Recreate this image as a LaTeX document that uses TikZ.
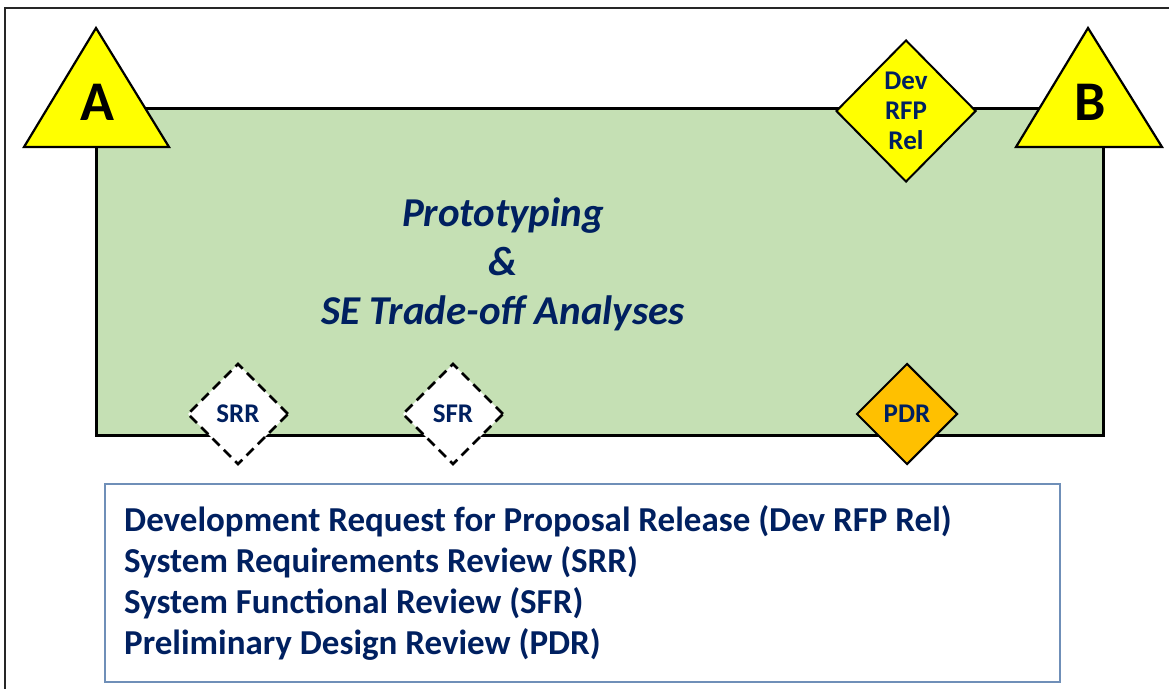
\documentclass[tikz,border=0pt]{standalone}
\usepackage{fontspec}
\setmainfont{Carlito}
\usetikzlibrary{shapes.geometric}
\definecolor{navy}{HTML}{002060}
\definecolor{phasegreen}{HTML}{C5E0B4}
\definecolor{msyellow}{HTML}{FFFF00}
\definecolor{msorange}{HTML}{FFC000}
\definecolor{legendedge}{HTML}{6F8FB8}
\begin{document}
\begin{tikzpicture}[x=1pt,y=-1pt,
  phase/.style={draw=black,fill=phasegreen,line width=3pt},
  milestone/.style={draw=black,fill=msyellow,line width=2.2pt,line join=miter},
  msdiamond/.style={diamond,aspect=1,inner sep=0pt,line width=2pt,
    text=navy,font=\bfseries\fontsize{27}{30}\selectfont,align=center},
  review/.style={msdiamond,draw=black,fill=white,line width=2.6pt,
    dash pattern=on 10pt off 6pt,
    minimum width=101pt,minimum height=101pt},
  legendtext/.style={text=navy,font=\bfseries\fontsize{35}{41}\selectfont,align=left,inner sep=0pt}]
\useasboundingbox (0,0) rectangle (1169,688);
\fill[white] (0,0) rectangle (1169,688);
% page frame
\draw[line width=1.6pt,black!85] (5,720) -- (5,8) -- (1200,8);

% acquisition phase box
\draw[phase] (96,108) rectangle (1103,435);
\node[text=navy,font=\bfseries\itshape\fontsize{41}{49}\selectfont,align=center] (title)
  at (503,264) {Prototyping\\\&\\SE Trade-off Analyses};

% milestone triangles
\draw[milestone] (96,28) -- (169,147) -- (24,147) -- cycle;
\node[font=\bfseries\fontsize{56}{56}\selectfont] (msA) at (97,102) {A};
\draw[milestone] (1088,28) -- (1162,147) -- (1016,147) -- cycle;
\node[font=\bfseries\fontsize{56}{56}\selectfont] (msB) at (1090,102) {B};

% decision points and reviews
\node[msdiamond,draw=black,fill=msyellow,minimum width=140pt,minimum height=142pt]
  (devrfp) at (906,111) {Dev\\RFP\\Rel};
\node[review] (srr) at (238,414) {SRR};
\node[review] (sfr) at (453,414) {SFR};
\node[msdiamond,draw=black,fill=msorange,minimum width=101pt,minimum height=101pt]
  (pdr) at (907,414) {PDR};

% legend
\draw[legendedge,line width=1.2pt] (105,484) rectangle (1060,682);
\node[legendtext,anchor=west] (legend) at (124,583)
  {Development Request for Proposal Release (Dev RFP Rel)\\
   System Requirements Review (SRR)\\
   System Functional Review (SFR)\\
   Preliminary Design Review (PDR)};
\end{tikzpicture}
\end{document}
